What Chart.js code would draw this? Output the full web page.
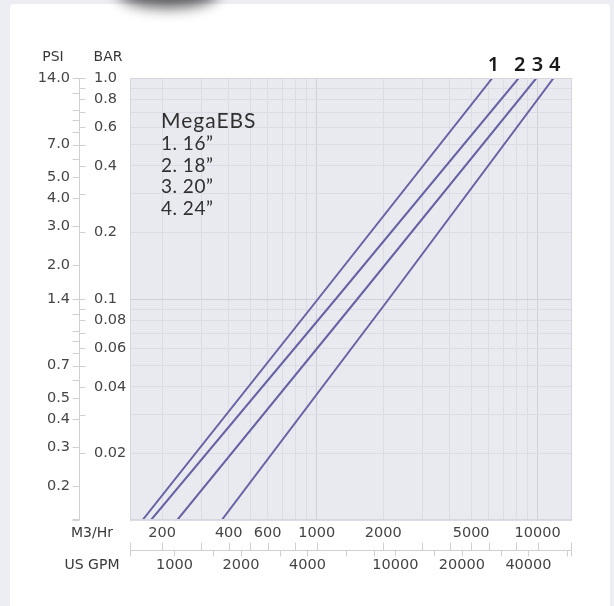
<!DOCTYPE html>
<html>
<head>
<meta charset="utf-8">
<script src="https://cdn.jsdelivr.net/npm/chart.js@4.4.1/dist/chart.umd.min.js"></script>
<style>
  html, body { margin: 0; padding: 0; width: 614px; height: 606px; overflow: hidden; background: #eceef3; }
  .card { position: absolute; left: 10px; top: 4px; width: 600px; height: 620px; background: #fff; border-radius: 3px; }
  .blob { position: absolute; left: 118px; top: -22px; width: 100px; height: 30px; border-radius: 50%; background: #5a5a5e; filter: blur(7px); }
  #wrap { position: absolute; left: 0; top: 0; width: 614px; height: 606px; }
</style>
</head>
<body>
<div class="card"></div>
<div class="blob"></div>
<div id="wrap"><canvas id="chart" width="614" height="606"></canvas></div>
<script>
// --- du lieu doc tu hinh ---
const pressureBar = [0.01, 0.1, 1.0];
const flow16 = [163, 1014, 6240];
const flow18 = [178, 1220, 8210];
const flow20 = [234, 1528, 9870];
const flow24 = [372, 2120, 11810];
const seriesNames = ["1", "2", "3", "4"];
const legendTitle = "MegaEBS";
const legendLines = ["1. 16\u201d", "2. 18\u201d", "3. 20\u201d", "4. 24\u201d"];

const m3Min = 143, m3Max = 14300;
const gpmPerM3 = 4.40287;
const psiPerBar = 14;

const m3Grid = [200, 300, 400, 500, 600, 700, 800, 900, 1000, 2000, 3000, 4000, 5000, 6000, 7000, 8000, 9000, 10000];
const m3Labels = [200, 400, 600, 1000, 2000, 5000, 10000];
const m3Ticks = [200, 300, 400, 500, 600, 800, 1000, 2000, 3000, 4000, 5000, 6000, 8000, 10000];
const gpmLabels = [1000, 2000, 4000, 10000, 20000, 40000];
const gpmTicks = [1000, 1500, 2000, 3000, 4000, 6000, 8000, 10000, 15000, 20000, 30000, 40000, 60000];

const barGrid = [0.01, 0.02, 0.03, 0.04, 0.05, 0.06, 0.07, 0.08, 0.09, 0.1, 0.2, 0.3, 0.4, 0.5, 0.6, 0.7, 0.8, 0.9, 1.0];
const barLabels = [1.0, 0.8, 0.6, 0.4, 0.2, 0.1, 0.08, 0.06, 0.04, 0.02];
const psiLabels = [14, 7, 5, 4, 3, 2, 1.4, 0.7, 0.5, 0.4, 0.3, 0.2];
const psiTicks = [14, 12, 10, 9, 8, 7, 6, 5, 4, 3, 2, 1.4, 1.2, 1.0, 0.9, 0.8, 0.7, 0.6, 0.5, 0.4, 0.3, 0.2, 0.14];

const lineColor = "#6662a4";
const tickFont = { family: "DejaVu Sans", size: 14.5 };
const tickColor = "#454545";

function mkPoints(flows) {
  return flows.map((q, i) => ({ x: q, y: pressureBar[i] }));
}
function setTicks(list) {
  return s => { s.ticks = list.map(v => ({ value: v })); };
}
function near(list, v) {
  return list.some(a => Math.abs(a - v) < 1e-9 * Math.max(1, a));
}

const decor = {
  id: "decor",
  beforeDraw(chart) {
    const { ctx, chartArea: a } = chart;
    ctx.save();
    ctx.fillStyle = "#e9eaf0";
    ctx.fillRect(a.left, a.top, a.right - a.left, a.bottom - a.top);
    ctx.restore();
  },
  afterDraw(chart) {
    const { ctx, chartArea: a, scales } = chart;
    ctx.save();
    // khung vung ve
    ctx.strokeStyle = "#d6d7de";
    ctx.lineWidth = 1;
    ctx.strokeRect(a.left + 0.5, a.top + 0.5, a.right - a.left - 1, a.bottom - a.top - 1);

    // truc doc PSI / BAR
    const ax = 79.5;
    ctx.strokeStyle = "#cfcfd4";
    ctx.beginPath();
    ctx.moveTo(ax, a.top); ctx.lineTo(ax, a.bottom);
    psiTicks.forEach(v => {
      const y = Math.round(scales.yp.getPixelForValue(v)) + 0.5;
      ctx.moveTo(ax - 7, y); ctx.lineTo(ax, y);
    });
    ctx.moveTo(ax - 7, a.bottom - 0.5); ctx.lineTo(ax, a.bottom - 0.5);
    barGrid.forEach(v => {
      if (v < 0.015) return;
      const y = Math.round(scales.y.getPixelForValue(v)) + 0.5;
      ctx.moveTo(ax, y); ctx.lineTo(ax + 6, y);
    });
    ctx.stroke();

    // truc ngang M3/Hr / US GPM
    const ay = 550.5;
    ctx.beginPath();
    ctx.moveTo(a.left, ay); ctx.lineTo(a.right, ay);
    ctx.moveTo(a.left + 0.5, ay - 8); ctx.lineTo(a.left + 0.5, ay + 6);
    ctx.moveTo(a.right - 0.5, ay - 8); ctx.lineTo(a.right - 0.5, ay + 6);
    m3Ticks.forEach(v => {
      const x = Math.round(scales.x.getPixelForValue(v)) + 0.5;
      ctx.moveTo(x, ay - 8); ctx.lineTo(x, ay);
    });
    gpmTicks.forEach(v => {
      const x = Math.round(scales.x2.getPixelForValue(v)) + 0.5;
      ctx.moveTo(x, ay); ctx.lineTo(x, ay + 6);
    });
    ctx.stroke();

    // tieu de truc
    ctx.fillStyle = "#383838";
    ctx.font = '14px "DejaVu Sans"';
    ctx.textAlign = "center";
    ctx.textBaseline = "middle";
    ctx.fillText("PSI", 53, 57);
    ctx.fillText("BAR", 108, 57);
    ctx.fillText("M3/Hr", 92, 533);
    ctx.fillText("US GPM", 92, 565);

    // so hieu duong
    ctx.fillStyle = "#1a1a1a";
    ctx.font = '600 20px "Noto Sans"';
    chart.data.datasets.forEach((ds, i) => {
      const pts = chart.getDatasetMeta(i).data;
      const top = pts[pts.length - 1];
      ctx.fillText(seriesNames[i], top.x + 1, 65);
    });

    // chu thich
    ctx.fillStyle = "#303030";
    ctx.textAlign = "left";
    ctx.font = '21px "Lato"';
    ctx.letterSpacing = "1px";
    ctx.fillText(legendTitle, 161, 121);
    ctx.font = '19px "Lato"';
    ctx.letterSpacing = "0.5px";
    legendLines.forEach((t, i) => ctx.fillText(t, 161, 144 + i * 21.6));
    ctx.restore();
  }
};

const ds = (data) => ({
  data: mkPoints(data),
  borderColor: lineColor,
  borderWidth: 2,
  pointRadius: 0,
  fill: false,
  tension: 0
});

new Chart(document.getElementById("chart").getContext("2d"), {
  type: "line",
  data: { datasets: [ds(flow16), ds(flow18), ds(flow20), ds(flow24)] },
  plugins: [decor],
  options: {
    responsive: false,
    animation: false,
    layout: { padding: { left: 0, right: 42, top: 78, bottom: 26 } },
    plugins: { legend: { display: false }, tooltip: { enabled: false } },
    scales: {
      x: {
        type: "logarithmic", position: "bottom", weight: 0,
        min: m3Min, max: m3Max,
        afterBuildTicks: setTicks(m3Grid),
        afterFit: s => { s.height = 30; },
        border: { display: false },
        grid: {
          drawTicks: false,
          color: c => near([1000, 10000], c.tick.value) ? "#cfd0d8" : "#dcdde4"
        },
        ticks: {
          autoSkip: false, maxRotation: 0, padding: 5, font: tickFont, color: tickColor,
          callback: v => near(m3Labels, v) ? String(v) : ""
        }
      },
      x2: {
        type: "logarithmic", position: "bottom", weight: 1,
        min: m3Min * gpmPerM3, max: m3Max * gpmPerM3,
        afterBuildTicks: setTicks(gpmLabels),
        afterFit: s => { s.height = 30; },
        border: { display: false },
        grid: { drawOnChartArea: false, drawTicks: false },
        ticks: {
          autoSkip: false, maxRotation: 0, padding: 7, font: tickFont, color: tickColor,
          callback: v => String(v)
        }
      },
      y: {
        type: "logarithmic", position: "left", weight: 0,
        min: 0.01, max: 1.0,
        afterBuildTicks: setTicks(barGrid),
        afterFit: s => { s.width = 36; },
        border: { display: false },
        grid: {
          drawTicks: false,
          color: c => near([0.1], c.tick.value) ? "#cfd0d8" : "#dcdde4"
        },
        ticks: {
          autoSkip: false, crossAlign: "far", font: tickFont, color: tickColor,
          callback: v => near(barLabels, v) ? (v >= 0.1 ? v.toFixed(1) : v.toFixed(2)) : ""
        }
      },
      yp: {
        type: "logarithmic", position: "left", weight: 1,
        min: 0.01 * psiPerBar, max: 1.0 * psiPerBar,
        afterBuildTicks: setTicks(psiLabels),
        afterFit: s => { s.width = 94; },
        border: { display: false },
        grid: { drawOnChartArea: false, drawTicks: false },
        ticks: {
          autoSkip: false, padding: 24, font: tickFont, color: tickColor,
          callback: v => v.toFixed(1)
        }
      }
    }
  }
});
</script>
</body>
</html>
